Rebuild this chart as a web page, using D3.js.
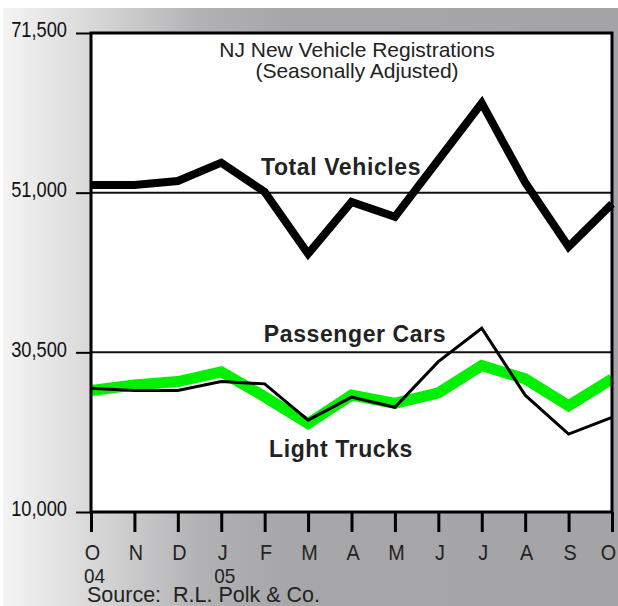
<!DOCTYPE html>
<html>
<head>
<meta charset="utf-8">
<script src="https://cdn.jsdelivr.net/npm/d3@7"></script>
<style>
  html, body { margin: 0; padding: 0; background: #ffffff; }
  svg { display: block; }
</style>
</head>
<body>
<svg id="chart" width="618" height="606"></svg>
<script>
// ---- data ----
const categories = ["Oct 04","Nov 04","Dec 04","Jan 05","Feb 05","Mar 05","Apr 05","May 05","Jun 05","Jul 05","Aug 05","Sep 05","Oct 05"];
const monthLabels = ["O","N","D","J","F","M","A","M","J","J","A","S","O"];
const yearLabels = {"Oct 04": "04", "Jan 05": "05"};
const totalVehicles  = [52000, 52000, 52500, 54850, 51100, 43150, 49800, 47900, 55200, 62500, 52300, 44050, 49550];
const passengerCars  = [25900, 25600, 25600, 26750, 26450, 21800, 24750, 23450, 29300, 33600, 25000, 20000, 22150];
const lightTrucks    = [25600, 26300, 26750, 28000, 24800, 21350, 25000, 23950, 25300, 28800, 27100, 23650, 27100];
const yTicks = [10000, 30500, 51000, 71500];
const gridValues = [30500, 51000];
const titleLines = ["NJ New Vehicle Registrations", "(Seasonally Adjusted)"];
const sourceText = "Source:  R.L. Polk & Co.";

// ---- layout ----
const svg = d3.select("#chart");
const L = 91, R = 612, T = 33, B = 512;
const x = d3.scalePoint().domain(categories).range([L, R]);
const y = d3.scaleLinear().domain([10000, 71500]).range([B, T]);

const sans = "'Liberation Sans', Arial, sans-serif";
// condense a text horizontally, mimicking a narrow typeface
function condense(sel, k) {
  sel.each(function () {
    const w = this.getComputedTextLength();
    d3.select(this).attr("textLength", w * k).attr("lengthAdjust", "spacingAndGlyphs");
  });
}

// background gradient
const defs = svg.append("defs");
const grad = defs.append("linearGradient").attr("id", "bg").attr("x1", "0%").attr("x2", "100%").attr("y1", "0%").attr("y2", "0%");
[["0%", "#f4f4f4"], ["14%", "#d9d9da"], ["32%", "#b2b2b4"], ["46%", "#a7a7a9"], ["100%", "#a4a4a6"]]
  .forEach(([o, c]) => grad.append("stop").attr("offset", o).attr("stop-color", c));
svg.append("rect").attr("x", 3).attr("y", 8).attr("width", 615).attr("height", 598).attr("fill", "url(#bg)");

// plot area
svg.append("rect").attr("x", L).attr("y", T).attr("width", R - L).attr("height", B - T).attr("fill", "#ffffff");

// gridlines
svg.append("g").selectAll("line").data(gridValues).join("line")
  .attr("x1", L).attr("x2", R).attr("y1", d => y(d)).attr("y2", d => y(d))
  .attr("stroke", "#111").attr("stroke-width", 2);

// title
svg.append("g").selectAll("text").data(titleLines).join("text")
  .attr("x", 357).attr("y", (d, i) => 56.5 + i * 21)
  .attr("text-anchor", "middle")
  .attr("font-family", sans).attr("font-size", 21).attr("fill", "#222")
  .text(d => d);

// lines
const line = d3.line().x((d, i) => x(categories[i])).y(d => y(d)).curve(d3.curveLinear);
svg.append("path").datum(lightTrucks).attr("d", line)
  .attr("fill", "none").attr("stroke", "#00f000").attr("stroke-width", 11).attr("stroke-linejoin", "miter");
svg.append("path").datum(passengerCars).attr("d", line)
  .attr("fill", "none").attr("stroke", "#000").attr("stroke-width", 3).attr("stroke-linejoin", "miter");
svg.append("path").datum(totalVehicles).attr("d", line)
  .attr("fill", "none").attr("stroke", "#000").attr("stroke-width", 8).attr("stroke-linejoin", "miter");

// series labels
const seriesLabels = [
  {text: "Total Vehicles", x: 341, y: 175},
  {text: "Passenger Cars", x: 355, y: 342},
  {text: "Light Trucks", x: 341, y: 457}
];
svg.append("g").selectAll("text").data(seriesLabels).join("text")
  .attr("x", d => d.x).attr("y", d => d.y).attr("text-anchor", "middle")
  .attr("font-family", sans).attr("font-weight", "bold").attr("font-size", 23)
  .attr("letter-spacing", 0.6)
  .attr("fill", "#222").text(d => d.text);

// frame
svg.append("rect").attr("x", L).attr("y", T).attr("width", R - L).attr("height", B - T)
  .attr("fill", "none").attr("stroke", "#000").attr("stroke-width", 3);

// y axis
const yAxis = svg.append("g").attr("transform", `translate(${L},0)`)
  .call(d3.axisLeft(y).tickValues(yTicks).tickFormat(d3.format(",")).tickSize(15).tickPadding(9));
yAxis.select(".domain").remove();
yAxis.selectAll(".tick line").attr("stroke", "#000").attr("stroke-width", 2);
yAxis.selectAll(".tick text").attr("font-family", sans).attr("font-size", 22).attr("fill", "#111").attr("dy", "0.18em")
  .call(condense, 0.83);

// x axis
const xAxis = svg.append("g").attr("transform", `translate(0,${B})`)
  .call(d3.axisBottom(x).tickSize(20).tickPadding(12).tickFormat((d, i) => monthLabels[i]));
xAxis.select(".domain").remove();
xAxis.selectAll(".tick line").attr("stroke", "#000").attr("stroke-width", 3);
xAxis.selectAll(".tick text").attr("font-family", sans).attr("font-size", 22).attr("fill", "#222")
  .attr("dx", (d, i) => i === categories.length - 1 ? -4 : 1)
  .call(condense, 0.9);
xAxis.selectAll(".tick").filter(d => yearLabels[d]).append("text")
  .attr("x", 3).attr("y", 71).attr("text-anchor", "middle")
  .attr("font-family", sans).attr("font-size", 21).attr("fill", "#222")
  .text(d => yearLabels[d])
  .call(condense, 0.9);

// source
svg.append("text").attr("x", 87).attr("y", 602)
  .attr("font-family", sans).attr("font-size", 21.5).attr("fill", "#222")
  .attr("xml:space", "preserve").style("white-space", "pre")
  .text(sourceText);
</script>
</body>
</html>
